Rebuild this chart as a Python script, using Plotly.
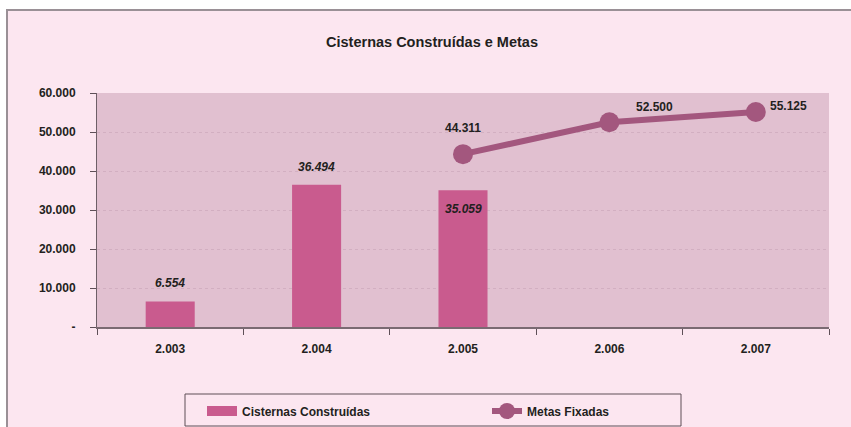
import plotly.graph_objects as go

categories = ["2.003", "2.004", "2.005", "2.006", "2.007"]
cisternas = [6554, 36494, 35059, None, None]
metas = [None, None, 44311, 52500, 55125]
y_tickvals = [0, 10000, 20000, 30000, 40000, 50000, 60000]
y_ticktext = ["-", "10.000", "20.000", "30.000", "40.000", "50.000", "60.000"]
bar_label_pos = ["outside", "outside", "inside"]
line_label_shift = {"2.005": (0, 26), "2.006": (45, 15), "2.007": (33, 6)}


def fmt(v):
    return f"{v:,}".replace(",", ".")


FONT = "Arial, Liberation Sans, sans-serif"
TXT = "#231f20"
BAR = "#C95B8E"
LINE = "#A3577E"
PAPER_PINK = "#FCE6F0"
PLOT_BG = "#E1C0D0"

W, H = 851, 427
ML, MR, MT, MB = 97, 22, 93, 100
PW, PH = W - ML - MR, H - MT - MB


def px_x(x):
    return (x - ML) / PW


def px_y(y):
    return (H - MB - y) / PH


fig = go.Figure()
fig.add_trace(go.Bar(
    x=categories, y=cisternas, name="Cisternas Construídas",
    marker=dict(color=BAR, line=dict(width=0)), width=0.335,
    showlegend=False,
))
# legend entry for the bars (wide swatch like the original)
fig.add_trace(go.Scatter(
    x=[None], y=[None], name="<b>Cisternas Construídas</b>", mode="lines",
    line=dict(color=BAR, width=11), legendwidth=240, hoverinfo="skip",
))
fig.add_trace(go.Scatter(
    x=categories, y=metas, name="<b>Metas Fixadas</b>", mode="lines+markers",
    line=dict(color=LINE, width=6), marker=dict(color=LINE, size=20),
))

annotations = []
for i, (v, pos) in enumerate(zip(cisternas, bar_label_pos)):
    if v is None:
        continue
    annotations.append(dict(
        x=i, y=v, text=f"<b><i>{fmt(v)}</i></b>", showarrow=False,
        yshift=18 if pos == "outside" else -19,
        font=dict(family=FONT, size=12, color=TXT),
    ))
for i, (c, v) in enumerate(zip(categories, metas)):
    if v is None:
        continue
    dx, dy = line_label_shift[c]
    annotations.append(dict(
        x=i, y=v, text=f"<b>{fmt(v)}</b>", showarrow=False,
        xshift=dx, yshift=dy,
        font=dict(family=FONT, size=12, color=TXT),
    ))

shapes = [
    # outer frame
    dict(type="rect", xref="paper", yref="paper", layer="below",
         x0=px_x(7), x1=px_x(W + 5), y0=px_y(H + 5), y1=px_y(10),
         fillcolor=PAPER_PINK, line=dict(color="#9a9096", width=2)),
    # plot area
    dict(type="rect", xref="paper", yref="paper", layer="below",
         x0=0, x1=1, y0=0, y1=1, fillcolor=PLOT_BG, line=dict(width=0)),
    # legend box
    dict(type="rect", xref="paper", yref="paper", layer="below",
         x0=px_x(185), x1=px_x(681), y0=px_y(426), y1=px_y(394),
         fillcolor="rgba(0,0,0,0)", line=dict(color="#5e4f57", width=1)),
]

fig.update_layout(
    width=W, height=H, autosize=False,
    margin=dict(l=ML, r=MR, t=MT, b=MB, pad=0, autoexpand=False),
    paper_bgcolor="white", plot_bgcolor="rgba(0,0,0,0)",
    font=dict(family=FONT, size=11, color=TXT),
    title=dict(text="<b>Cisternas Construídas e Metas</b>", x=px_x(432),
               xref="paper", xanchor="center", y=1 - 42 / H, yref="container",
               yanchor="middle", font=dict(family=FONT, size=14.5, color=TXT)),
    showlegend=True,
    legend=dict(orientation="h", x=px_x(202), xanchor="left",
                y=px_y(411), yanchor="middle", bgcolor="rgba(0,0,0,0)",
                borderwidth=0, font=dict(family=FONT, size=12, color=TXT),
                itemsizing="trace"),
    shapes=shapes, annotations=annotations,
    bargap=0.665,
)
fig.update_xaxes(
    type="category", categoryorder="array", categoryarray=categories,
    showline=True, linecolor="#7a6a72", linewidth=2,
    ticks="outside", tickson="boundaries", ticklen=6, tickcolor="#5e4f57",
    tickwidth=1, showgrid=False, ticklabelstandoff=10,
    tickfont=dict(family=FONT, size=12, color=TXT),
    tickprefix="<b>", ticksuffix="</b>",
)
fig.update_yaxes(
    range=[0, 60000], tickvals=y_tickvals,
    ticktext=[f"<b>{t}</b>" for t in y_ticktext],
    showline=True, linecolor="#6e5f67", linewidth=1,
    ticks="outside", ticklen=6, tickcolor="#5e4f57", tickwidth=1,
    showgrid=True, gridcolor="#D2AFC1", gridwidth=1, griddash="dot",
    zeroline=False, ticklabelstandoff=12,
    tickfont=dict(family=FONT, size=12, color=TXT),
)

fig.write_html("out.html",
               config={"displayModeBar": False, "responsive": False},
               post_script="document.body.style.margin='0';")
